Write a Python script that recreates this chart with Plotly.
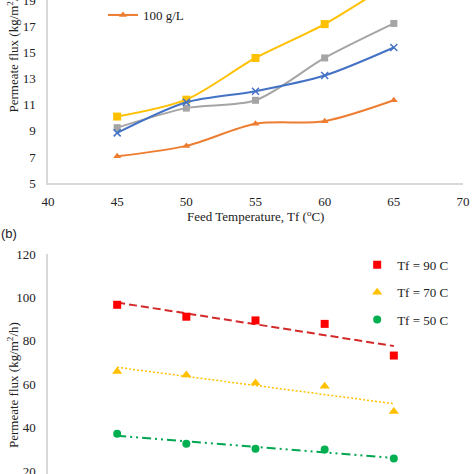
import numpy as np
import plotly.graph_objects as go

# ---------------- data ----------------
temps_a = [45, 50, 55, 60, 65]
flux_yellow = [10.1, 11.4, 14.6, 17.2, 20.5]
flux_gray = [9.25, 10.75, 11.35, 14.6, 17.25]
flux_blue = [8.85, 11.2, 12.05, 13.25, 15.4]
flux_orange = [7.05, 7.85, 9.55, 9.75, 11.35]
names_a = ["25 g/L", "50 g/L", "75 g/L", "100 g/L"]

x_b = [45, 50, 55, 60, 65]
flux_90 = [96.6, 91.1, 89.4, 87.8, 73.2]
flux_70 = [65.8, 64.2, 60.5, 59.1, 47.4]
flux_50 = [37.2, 32.5, 30.2, 29.9, 25.7]
names_b = ["Tf = 90 C", "Tf = 70 C", "Tf = 50 C"]

x_ticks_a = [40, 45, 50, 55, 60, 65, 70]
y_ticks_a = [5, 7, 9, 11, 13, 15, 17, 19]
y_ticks_b = [20, 40, 60, 80, 100, 120]

SERIF = "Liberation Serif"
AXIS_COL = "#D9D9D9"

fig = go.Figure()

# ---------------- panel (a) ----------------
series_a = [
    (flux_yellow, "#FFC000", "square", 8, names_a[0]),
    (flux_gray, "#A5A5A5", "square", 7, names_a[1]),
    (flux_blue, "#4472C4", "x-thin", 7, names_a[2]),
    (flux_orange, "#ED7D31", "triangle-up", 7, names_a[3]),
]
for vals, col, sym, sz, nm in series_a:
    fig.add_trace(go.Scatter(
        x=temps_a, y=vals, name=nm, mode="lines+markers",
        line=dict(color=col, width=2, shape="spline", smoothing=0.8),
        marker=dict(color=col, symbol=sym, size=sz,
                    line=dict(color=col, width=1.5 if sym == "x-thin" else 0)),
        xaxis="x", yaxis="y", legend="legend",
        showlegend=(nm == names_a[3]),
    ))

# ---------------- panel (b) ----------------
series_b = [
    (flux_90, "#FF0000", "#D42A2A", "square", 8, "8px,4px", 2, names_b[0]),
    (flux_70, "#FFC000", "#FFC000", "triangle-up", 9, "2px,2px", 1.5, names_b[1]),
    (flux_50, "#00B050", "#00A651", "circle", 8, "9px,4px,2px,4px,2px,4px", 2, names_b[2]),
]
xb = np.array(x_b, dtype=float)
for i, (vals, mcol, lcol, sym, sz, dash, lw, nm) in enumerate(series_b):
    coef = np.polyfit(xb, np.array(vals), 1)
    trend = np.polyval(coef, xb)
    fig.add_trace(go.Scatter(
        x=x_b, y=trend, mode="lines", showlegend=False, hoverinfo="skip",
        line=dict(color=lcol, width=lw, dash=dash),
        xaxis="x2", yaxis="y2",
    ))
    fig.add_trace(go.Scatter(
        x=x_b, y=vals, name=nm, mode="markers",
        marker=dict(color=mcol, symbol=sym, size=sz),
        xaxis="x2", yaxis="y2", legend="legend2", legendgroup=f"g{i}",
    ))

tickfont = dict(family=SERIF, size=13, color="#222222")
common = dict(showgrid=False, zeroline=False, automargin=False)

fig.update_layout(
    template="none",
    width=474, height=474,
    margin=dict(l=48, r=11, t=0, b=0, pad=0),
    paper_bgcolor="white", plot_bgcolor="white",
    font=dict(family=SERIF, size=13, color="#222222"),
    xaxis=dict(domain=[0, 1], anchor="y", range=[40, 70], tickvals=x_ticks_a,
               showline=True, linecolor=AXIS_COL, linewidth=1.5, ticks="",
               ticklabelstandoff=6, ticklabeloverflow="allow", tickfont=tickfont, **common),
    yaxis=dict(domain=[0.6139, 1], anchor="x", range=[5, 19.05], tickvals=y_ticks_a,
               showline=True, linecolor=AXIS_COL, linewidth=1.5, ticks="",
               ticklabelstandoff=8, ticklabeloverflow="allow", tickfont=tickfont, **common),
    xaxis2=dict(domain=[0, 1], anchor="y2", range=[40, 70], showticklabels=False,
                showline=False, ticks="", **common),
    yaxis2=dict(domain=[0, 0.4641], anchor="x2", range=[18.6, 120], tickvals=y_ticks_b,
                showline=True, linecolor=AXIS_COL, linewidth=1.5, ticks="",
                ticklabelstandoff=8, ticklabeloverflow="allow", tickfont=tickfont, **common),
    legend=dict(x=0.1325, y=0.9684, xanchor="left", yanchor="middle",
                bgcolor="rgba(0,0,0,0)", font=dict(family=SERIF, size=13),
                itemwidth=30),
    legend2=dict(x=0.745, y=0.473, xanchor="left", yanchor="top",
                 bgcolor="rgba(0,0,0,0)", font=dict(family=SERIF, size=13),
                 tracegroupgap=7.5),
    annotations=[
        dict(text="Feed Temperature, Tf (<sup>o</sup>C)", xref="paper", yref="paper",
             x=0.4988, y=0.5443, xanchor="center", yanchor="middle", showarrow=False,
             font=dict(family=SERIF, size=13)),
        dict(text="Permeate flux (kg/m<sup>2</sup>/h)", xref="paper", yref="paper",
             x=-0.0843, y=0.8956, xanchor="center", yanchor="middle", textangle=-90,
             showarrow=False, font=dict(family=SERIF, size=13)),
        dict(text="Permeate flux (kg/m<sup>2</sup>/h)", xref="paper", yref="paper",
             x=-0.0843, y=0.1878, xanchor="center", yanchor="middle", textangle=-90,
             showarrow=False, font=dict(family=SERIF, size=13)),
        dict(text="(b)", xref="paper", yref="paper", x=-0.094, y=0.5084,
             xanchor="center", yanchor="middle", showarrow=False,
             font=dict(family="Liberation Sans", size=13)),
    ],
)

fig.write_html("out.html", config={"displayModeBar": False},
               post_script="document.body.style.margin='0px';document.body.style.overflow='hidden';")
